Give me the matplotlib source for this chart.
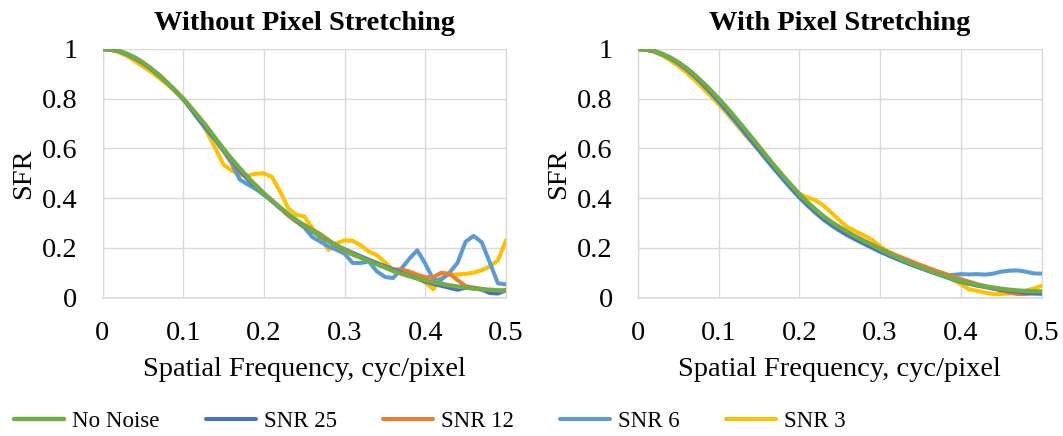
import matplotlib
matplotlib.use("Agg")
import matplotlib.pyplot as plt

plt.rcParams['font.family'] = ['Liberation Serif', 'DejaVu Serif']

freq = [0.00, 0.01, 0.02, 0.03, 0.04, 0.05, 0.06, 0.07, 0.08, 0.09,
        0.10, 0.11, 0.12, 0.13, 0.14, 0.15, 0.16, 0.17, 0.18, 0.19,
        0.20, 0.21, 0.22, 0.23, 0.24, 0.25, 0.26, 0.27, 0.28, 0.29,
        0.30, 0.31, 0.32, 0.33, 0.34, 0.35, 0.36, 0.37, 0.38, 0.39,
        0.40, 0.41, 0.42, 0.43, 0.44, 0.45, 0.46, 0.47, 0.48, 0.49, 0.50]

series_names = ["No Noise", "SNR 25", "SNR 12", "SNR 6", "SNR 3"]
series_colors = ["#70AD47", "#4472C4", "#ED7D31", "#5B9BD5", "#FFC000"]
panel_titles = ["Without Pixel Stretching", "With Pixel Stretching"]
x_ticks = [0, 0.1, 0.2, 0.3, 0.4, 0.5]
x_tick_labels = ["0", "0.1", "0.2", "0.3", "0.4", "0.5"]
y_ticks = [0, 0.2, 0.4, 0.6, 0.8, 1.0]
y_tick_labels = ["0", "0.2", "0.4", "0.6", "0.8", "1"]

# ---- Without pixel stretching ----
L_no_noise = [1.000, 0.998, 0.992, 0.981, 0.966, 0.946, 0.922, 0.895, 0.865, 0.833,
              0.800, 0.763, 0.724, 0.684, 0.640, 0.598, 0.558, 0.520, 0.484, 0.450,
              0.418, 0.390, 0.362, 0.336, 0.312, 0.290, 0.268, 0.248, 0.228, 0.210,
              0.192, 0.176, 0.161, 0.147, 0.134, 0.121, 0.107, 0.096, 0.086, 0.077,
              0.068, 0.061, 0.055, 0.049, 0.044, 0.040, 0.036, 0.033, 0.031, 0.029, 0.027]
L_snr25 = [1.000, 0.998, 0.991, 0.979, 0.963, 0.943, 0.920, 0.893, 0.864, 0.832,
           0.798, 0.758, 0.716, 0.676, 0.636, 0.595, 0.553, 0.512, 0.476, 0.446,
           0.416, 0.388, 0.360, 0.334, 0.310, 0.288, 0.266, 0.246, 0.226, 0.209,
           0.194, 0.180, 0.166, 0.152, 0.139, 0.126, 0.113, 0.100, 0.088, 0.077,
           0.064, 0.055, 0.047, 0.039, 0.031, 0.040, 0.037, 0.032, 0.018, 0.016, 0.029]
L_snr12 = [1.000, 0.997, 0.990, 0.978, 0.962, 0.944, 0.922, 0.896, 0.866, 0.834,
           0.800, 0.760, 0.718, 0.678, 0.636, 0.592, 0.548, 0.506, 0.478, 0.452,
           0.420, 0.390, 0.360, 0.330, 0.306, 0.292, 0.274, 0.255, 0.232, 0.208,
           0.188, 0.172, 0.160, 0.150, 0.137, 0.124, 0.112, 0.113, 0.105, 0.092,
           0.082, 0.082, 0.100, 0.095, 0.070, 0.046, 0.040, 0.035, 0.028, 0.025, 0.031]
L_snr6 = [1.000, 0.998, 0.991, 0.980, 0.964, 0.944, 0.921, 0.894, 0.864, 0.832,
          0.798, 0.756, 0.712, 0.672, 0.632, 0.588, 0.540, 0.475, 0.455, 0.436,
          0.413, 0.388, 0.362, 0.334, 0.306, 0.282, 0.243, 0.225, 0.205, 0.192,
          0.176, 0.139, 0.139, 0.145, 0.105, 0.083, 0.078, 0.115, 0.155, 0.190,
          0.136, 0.072, 0.072, 0.100, 0.140, 0.225, 0.248, 0.222, 0.140, 0.057, 0.053]
L_snr3 = [1.000, 0.997, 0.988, 0.972, 0.952, 0.930, 0.908, 0.884, 0.858, 0.830,
          0.800, 0.762, 0.718, 0.662, 0.600, 0.534, 0.511, 0.494, 0.490, 0.498,
          0.500, 0.485, 0.427, 0.360, 0.333, 0.326, 0.279, 0.239, 0.192, 0.218,
          0.230, 0.228, 0.210, 0.185, 0.170, 0.142, 0.112, 0.112, 0.090, 0.077,
          0.060, 0.033, 0.080, 0.092, 0.093, 0.095, 0.100, 0.110, 0.125, 0.150, 0.230]

# ---- With pixel stretching ----
R_no_noise = [1.000, 0.998, 0.992, 0.981, 0.966, 0.947, 0.924, 0.897, 0.867, 0.835,
              0.801, 0.765, 0.727, 0.688, 0.648, 0.608, 0.567, 0.527, 0.489, 0.452,
              0.416, 0.384, 0.354, 0.327, 0.303, 0.283, 0.263, 0.245, 0.228, 0.211,
              0.194, 0.178, 0.163, 0.149, 0.135, 0.122, 0.110, 0.098, 0.087, 0.076,
              0.066, 0.058, 0.051, 0.045, 0.040, 0.035, 0.031, 0.028, 0.026, 0.025, 0.024]
R_snr25 = [1.000, 0.998, 0.991, 0.980, 0.964, 0.944, 0.920, 0.892, 0.861, 0.828,
           0.793, 0.756, 0.718, 0.678, 0.638, 0.598, 0.558, 0.518, 0.480, 0.443,
           0.407, 0.375, 0.345, 0.318, 0.294, 0.273, 0.253, 0.235, 0.218, 0.202,
           0.186, 0.171, 0.157, 0.144, 0.131, 0.119, 0.107, 0.095, 0.084, 0.073,
           0.063, 0.055, 0.048, 0.042, 0.036, 0.031, 0.027, 0.023, 0.019, 0.016, 0.015]
R_snr12 = [1.000, 0.998, 0.991, 0.980, 0.965, 0.945, 0.922, 0.895, 0.864, 0.832,
           0.797, 0.760, 0.722, 0.683, 0.643, 0.603, 0.563, 0.523, 0.485, 0.449,
           0.413, 0.381, 0.351, 0.324, 0.300, 0.280, 0.261, 0.244, 0.228, 0.213,
           0.198, 0.184, 0.170, 0.157, 0.144, 0.131, 0.119, 0.107, 0.096, 0.085,
           0.074, 0.064, 0.054, 0.045, 0.036, 0.028, 0.020, 0.014, 0.014, 0.018, 0.020]
R_snr6 = [1.000, 0.998, 0.991, 0.979, 0.963, 0.943, 0.919, 0.891, 0.859, 0.825,
          0.789, 0.751, 0.712, 0.672, 0.632, 0.592, 0.552, 0.512, 0.474, 0.437,
          0.402, 0.370, 0.340, 0.313, 0.289, 0.268, 0.249, 0.232, 0.216, 0.200,
          0.184, 0.170, 0.156, 0.143, 0.130, 0.118, 0.107, 0.097, 0.090, 0.091,
          0.094, 0.093, 0.094, 0.092, 0.096, 0.104, 0.108, 0.109, 0.104, 0.097, 0.096]
R_snr3 = [1.000, 0.997, 0.989, 0.974, 0.955, 0.932, 0.906, 0.877, 0.845, 0.812,
          0.778, 0.742, 0.704, 0.666, 0.628, 0.590, 0.551, 0.514, 0.480, 0.447,
          0.418, 0.402, 0.392, 0.370, 0.340, 0.310, 0.282, 0.266, 0.250, 0.232,
          0.206, 0.184, 0.166, 0.151, 0.138, 0.126, 0.113, 0.100, 0.087, 0.072,
          0.054, 0.033, 0.027, 0.020, 0.014, 0.014, 0.017, 0.020, 0.027, 0.036, 0.047]

left_series = [L_no_noise, L_snr25, L_snr12, L_snr6, L_snr3]
right_series = [R_no_noise, R_snr25, R_snr12, R_snr6, R_snr3]

W, H = 1063, 436
fig = plt.figure(figsize=(W / 100, H / 100), dpi=100)

def px_axes(x0, x1, ytop, ybot):
    return fig.add_axes([x0 / W, 1 - ybot / H, (x1 - x0) / W, (ybot - ytop) / H])

ax_l = px_axes(102.5, 506, 49, 297.5)
ax_r = px_axes(637.7, 1041.7, 49, 297.5)

fs = 20.5
grid_c = "#D9D9D9"
handles = None
for ax, data, title in [(ax_l, left_series, panel_titles[0]), (ax_r, right_series, panel_titles[1])]:
    lines = {}
    # draw order: SNR 3, SNR 6, SNR 12, SNR 25, No Noise on top
    for i in [4, 3, 2, 1, 0]:
        ln, = ax.plot(freq, data[i], color=series_colors[i], lw=2.9 if i else 3.2,
                      label=series_names[i], solid_capstyle='round', zorder=3 + (5 - i))
        lines[i] = ln
    handles = [lines[i] for i in range(5)]
    ax.set_xlim(0, 0.5)
    ax.set_ylim(0, 1.0)
    ax.set_xticks(x_ticks)
    ax.set_xticklabels(x_tick_labels)
    ax.set_yticks(y_ticks)
    ax.set_yticklabels(y_tick_labels)
    ax.grid(True, color=grid_c, lw=1.0, zorder=0)
    for s in ax.spines.values():
        s.set_visible(False)
    ax.tick_params(length=0, labelsize=fs, colors="black")
    ax.tick_params(axis='y', pad=18)
    ax.tick_params(axis='x', pad=17)
    ax.set_xlabel("Spatial Frequency, cyc/pixel", fontsize=fs, labelpad=8)
    ax.set_ylabel("SFR", fontsize=fs, labelpad=4)
    ax.set_title(title, fontsize=fs, fontweight='bold', pad=14)
    for xl in [0, 0.5]:
        ax.axvline(xl, color=grid_c, lw=1.0, zorder=0, clip_on=False)
    ax.axhline(0, color=grid_c, lw=1.2, zorder=0, clip_on=False)

fig.legend(handles, series_names, loc='center', bbox_to_anchor=(430 / W, 1 - 421 / H),
           ncol=5, frameon=False, fontsize=16.5, handlelength=2.2, handletextpad=0.35,
           columnspacing=2.0)

fig.savefig("out.png", dpi=100)
